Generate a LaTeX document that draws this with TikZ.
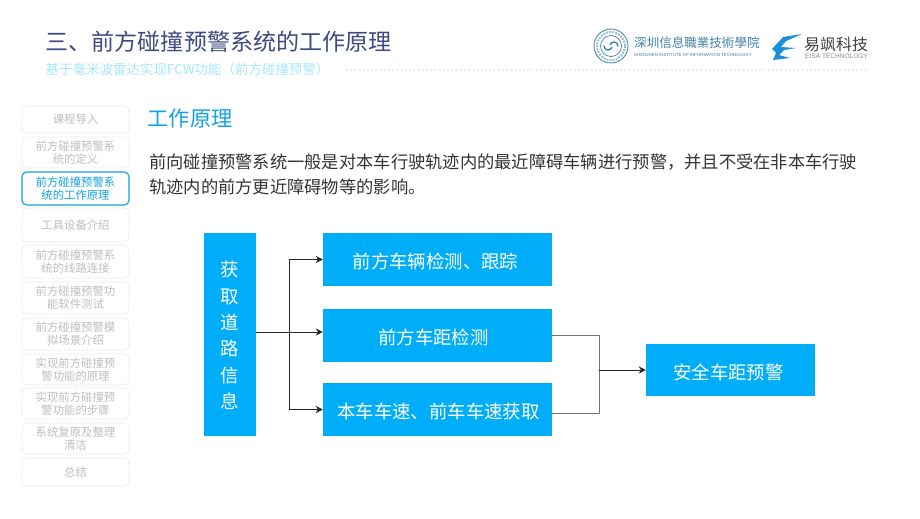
\documentclass[tikz,border=0pt]{standalone}
\usepackage{fontspec}
\setmainfont{Noto Sans CJK SC}
\newfontfamily\tcfont{Noto Sans CJK TC}
\newfontfamily\latinfont{Liberation Sans}
\usetikzlibrary{arrows.meta}
\definecolor{titleblue}{HTML}{3E4A82}
\definecolor{subcyan}{HTML}{A4E8F4}
\definecolor{headblue}{HTML}{12A2E4}
\definecolor{boxblue}{HTML}{00ADF8}
\definecolor{navgray}{HTML}{BDBDBD}
\definecolor{navline}{HTML}{DCE3DE}
\definecolor{logoblue}{HTML}{3F7FA8}
\definecolor{fanblue}{HTML}{1C8FD8}
\tikzset{
  flowbox/.style={fill=boxblue,text=white,inner sep=0pt,text height=15.4pt,text depth=0pt,font=\fontsize{15.7pt}{19pt}\selectfont},
  navbox/.style={draw=navline,densely dotted,line width=0.6pt,rounded corners=4pt,minimum width=3.21cm,inner sep=0pt,
    text=navgray,align=center,font=\fontsize{9.7pt}{10.9pt}\selectfont},
  navon/.style={draw=headblue,solid,line width=1pt,text=headblue},
  link/.style={line width=0.6pt,draw=black!85,-{Stealth[length=6pt,width=6pt]}},
  wire/.style={line width=0.8pt,draw=black!55}
}
\begin{document}
\begin{tikzpicture}[x=0.03cm,y=-0.03cm,line cap=round,line join=round]
  \useasboundingbox (0,0) rectangle (920,518);
  % header
  \node[anchor=west,inner sep=0pt,text=titleblue,font=\fontsize{19.67pt}{22pt}\selectfont] (title) at (45.5,41.5) {三、前方碰撞预警系统的工作原理};
  \node[anchor=west,inner sep=0pt,text=subcyan,font=\fontsize{11.5pt}{13pt}\selectfont] (subtitle) at (45.5,69) {基于毫米波雷达实现FCW功能（前方碰撞预警）};
  \draw[navline!70,line width=1.6pt,dotted,line cap=butt] (346,70) -- (869,70);
  % logos
  \draw[logoblue,line width=0.7pt,fill=white] (611,46) circle (17);
  \draw[logoblue!55,line width=1.6pt,densely dotted,line cap=butt] (611,46) circle (14);
  \draw[logoblue,line width=0.6pt] (611,46) circle (10.5);
  \draw[logoblue,line width=1.2pt] (604,46) arc[start angle=180,end angle=20,radius=4] (618,46) arc[start angle=0,end angle=-160,radius=4];
  \node[anchor=west,inner sep=0pt,text=logoblue,font=\tcfont\fontsize{10.7pt}{13pt}\selectfont] (school) at (634,43) {深圳信息職業技術學院};
  \node[anchor=west,inner sep=0pt,text=logoblue,font=\latinfont\fontsize{3.7pt}{5pt}\selectfont] (schoolen) at (634,55) {SHENZHEN INSTITUTE OF INFORMATION TECHNOLOGY};
  \fill[fanblue] (802,34) -- (783,37) -- (772,49) -- (776,53) -- (773,60) -- (790,58) -- (779,55) -- (784,50) -- (796,48) -- (781,47) -- (786,41) -- cycle;
  \node[anchor=west,inner sep=0pt,text=black!75,font=\fontsize{13.6pt}{16pt}\selectfont] (fan) at (804,44) {易飒科技};
  \node[anchor=west,inner sep=0pt,text=black!45,font=\latinfont\fontsize{5.6pt}{7pt}\selectfont] (fanen) at (805,56) {EISA TECHNOLOGY};
  % side menu
  \foreach \ya/\yb/\n/\txt in {106/133/1/课程导入,137/168/2/{前方碰撞预警系\\统的定义},208/242/4/工具设备介绍,245/278/5/{前方碰撞预警系\\统的线路连接},282/314/6/{前方碰撞预警功\\能软件测试},318/350/7/{前方碰撞预警模\\拟场景介绍},354/385/8/{实现前方碰撞预\\警功能的原理},388/419/9/{实现前方碰撞预\\警功能的步骤},423/454/10/{系统复原及整理\\清洁},458/486/11/总结} {
    \node[navbox,minimum height={(\yb-\ya)*0.03cm}] (nav\n) at (75.5,{(\ya+\yb)/2}) {\txt};
  }
  \node[navbox,navon,minimum height=0.99cm] (nav3) at (75.5,188.5) {前方碰撞预警系\\统的工作原理};
  % body text
  \node[anchor=west,inner sep=0pt,text=headblue,font=\fontsize{18.1pt}{20pt}\selectfont] (head) at (147.5,118.5) {工作原理};
  \node[anchor=west,inner sep=0pt,text=black!80,font=\fontsize{14.74pt}{17pt}\selectfont] (lineone) at (149,162) {前向碰撞预警系统一般是对本车行驶轨迹内的最近障碍车辆进行预警，并且不受在非本车行驶};
  \node[anchor=west,inner sep=0pt,text=black!80,font=\fontsize{14.74pt}{17pt}\selectfont] (linetwo) at (149,187) {轨迹内的前方更近障碍物等的影响。};
  % flow chart
  \node[flowbox,minimum width=1.56cm,minimum height=6.09cm,text height=,text depth=,align=center,font=\fontsize{15.7pt}{22.5pt}\selectfont] (road) at (230,334.5) {\rule{0pt}{15pt}获\\取\\道\\路\\信\\息};
  \node[flowbox,minimum width=6.87cm,minimum height=1.59cm] (detect) at (437.5,259.5) {\hspace*{-3.4pt}前方车辆检测、跟踪};
  \node[flowbox,minimum width=6.87cm,minimum height=1.59cm] (gap) at (437.5,335.5) {\hspace*{-6.8pt}前方车距检测};
  \node[flowbox,minimum width=6.87cm,minimum height=1.59cm] (speed) at (437.5,409.5) {\hspace*{1.7pt}本车车速、前车车速获取};
  \node[flowbox,minimum width=5.07cm,minimum height=1.56cm] (warn) at (730.5,370) {\hspace*{-3.4pt}安全车距预警};
  \coordinate (split) at (289,332);
  \coordinate (merge) at (599,370);
  \draw[link] (road.east |- split) -- (gap.west |- split);
  \draw[link] (split |- detect.west) -- (detect.west);
  \draw[link] (split |- speed.west) -- (speed.west);
  \draw[line width=0.6pt,draw=black!85] (split |- detect.west) -- (split |- speed.west);
  \draw[wire] (gap.east) -- (merge |- gap.east) -- (merge |- 0,413) -- (speed.east |- 0,413);
  \draw[link] (merge) -- (warn.west);
\end{tikzpicture}
\end{document}
